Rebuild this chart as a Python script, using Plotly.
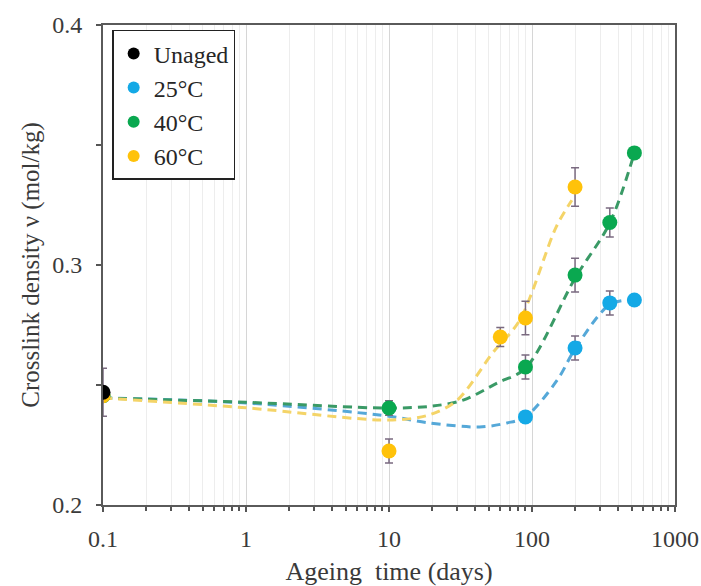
import plotly.graph_objects as go

# ---- data ----
unaged_days = [0.1]
unaged_v = [0.247]
unaged_err = [0.010]

days_25 = [0.1, 90, 200, 350, 520]
v_25 = [0.2455, 0.2367, 0.2654, 0.2842, 0.2854]
err_25 = [0.0, 0.002, 0.005, 0.005, 0.002]

days_40 = [0.1, 10, 90, 200, 350, 520]
v_40 = [0.2455, 0.2404, 0.2575, 0.2958, 0.3177, 0.3467]
err_40 = [0.0, 0.003, 0.005, 0.007, 0.006, 0.002]

days_60 = [0.1, 10, 60, 90, 200]
v_60 = [0.2455, 0.2225, 0.2700, 0.2779, 0.3325]
err_60 = [0.0, 0.005, 0.004, 0.007, 0.008]

# trend (fit) curves
fit_days_25 = [0.1, 1, 10, 19, 43, 67, 90, 150, 200, 350, 520]
fit_v_25 = [0.2446, 0.2425, 0.2370, 0.2342, 0.2325, 0.2342, 0.2367, 0.2520, 0.2650, 0.2835, 0.2856]

fit_days_40 = [0.1, 1, 10, 20, 33, 57, 90, 200, 350, 520]
fit_v_40 = [0.2446, 0.2428, 0.2404, 0.2412, 0.2437, 0.2508, 0.2570, 0.2945, 0.3175, 0.3467]

fit_days_60 = [0.1, 1, 10, 19, 30, 53, 82, 148, 190]
fit_v_60 = [0.2446, 0.2405, 0.2354, 0.2375, 0.2437, 0.2633, 0.2770, 0.3160, 0.3270]

x_tick_vals = [0.1, 1, 10, 100, 1000]
x_tick_text = ["0.1", "1", "10", "100", "1000"]
y_tick_vals = [0.2, 0.3, 0.4]
y_tick_text = ["0.2", "0.3", "0.4"]
y_minor_vals = [0.25, 0.35]

COL_BLACK = "#000000"
COL_25 = "#14a9e6"
COL_40 = "#0aa850"
COL_60 = "#ffc20a"
LINE_25 = "#55a8d8"
LINE_40 = "#3a9a66"
LINE_60 = "#f4d468"
ERR_COL = "#7a6a80"
FONT = "Liberation Serif"
TXT = "#3a3a3a"

x_minor_vals = [k * 10 ** e for e in (-1, 0, 1, 2) for k in range(2, 10)]

fig = go.Figure()

for d, v, c in [(fit_days_25, fit_v_25, LINE_25),
                (fit_days_40, fit_v_40, LINE_40),
                (fit_days_60, fit_v_60, LINE_60)]:
    fig.add_trace(go.Scatter(x=d, y=v, mode="lines", showlegend=False, hoverinfo="skip",
                             line=dict(color=c, width=3, dash="9px,6px", shape="spline", smoothing=0.9)))

def pts(name, d, v, e, c, rank):
    fig.add_trace(go.Scatter(
        x=d, y=v, mode="markers", name=name, legendrank=rank,
        marker=dict(color=c, size=15, line=dict(width=0)),
        error_y=dict(type="data", array=e, visible=True, color=ERR_COL, thickness=1.5, width=4),
    ))

pts("25°C", days_25, v_25, err_25, COL_25, 2)
pts("40°C", days_40, v_40, err_40, COL_40, 3)
pts("60°C", days_60, v_60, err_60, COL_60, 4)
pts("Unaged", unaged_days, unaged_v, unaged_err, COL_BLACK, 1)

fig.update_layout(
    width=701, height=586,
    margin=dict(l=103, r=26, t=25, b=81, autoexpand=False),
    paper_bgcolor="white", plot_bgcolor="white",
    font=dict(family=FONT, size=24, color=TXT),
    showlegend=True,
    legend=dict(x=0.016, y=0.99, xanchor="left", yanchor="top",
                bgcolor="white", bordercolor="#222222", borderwidth=1.5,
                font=dict(family=FONT, size=24, color="#262626"),
                itemwidth=30, itemsizing="constant", tracegroupgap=0),
    xaxis=dict(
        type="log", range=[-1, 3], automargin=False,
        tickmode="array", tickvals=x_tick_vals, ticktext=x_tick_text,
        ticks="outside", ticklen=5, tickwidth=1.5, tickcolor="#555555",
        ticklabelstandoff=6,
        showline=True, linecolor="#5a5a5a", linewidth=2, mirror=True,
        showgrid=True, gridcolor="#d6d6d6", gridwidth=1,
        minor=dict(tickvals=x_minor_vals, ticks="outside", ticklen=4, tickwidth=1.5,
                   tickcolor="#555555", showgrid=True, gridcolor="#ededed", gridwidth=1),
        zeroline=False,
        title=dict(text="Ageing\u00a0 time (days)", font=dict(family=FONT, size=26, color=TXT), standoff=17),
        tickfont=dict(family=FONT, size=24, color=TXT),
    ),
    yaxis=dict(
        range=[0.2, 0.4], automargin=False,
        tickmode="array", tickvals=y_tick_vals, ticktext=y_tick_text,
        ticks="outside", ticklen=5, tickwidth=1.5, tickcolor="#555555",
        ticklabelstandoff=9,
        showline=True, linecolor="#5a5a5a", linewidth=2, mirror=True,
        showgrid=False, zeroline=False,
        minor=dict(tickvals=y_minor_vals, ticks="outside", ticklen=5, tickwidth=1.5, tickcolor="#555555", showgrid=False),
        title=dict(text="Crosslink density ν (mol/kg)", font=dict(family=FONT, size=25, color=TXT), standoff=5),
        tickfont=dict(family=FONT, size=24, color=TXT),
    ),
)

fig.write_html("out.html")
